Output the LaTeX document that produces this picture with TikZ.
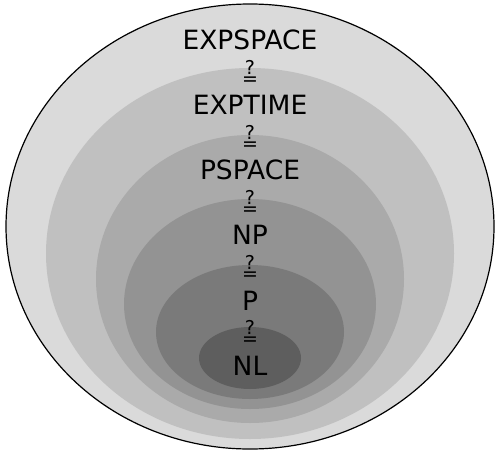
\documentclass[tikz,border=0pt]{standalone}
\usepackage{fontspec}
\setmainfont{DejaVu Sans}
\definecolor{expspacegray}{HTML}{DADADA}
\definecolor{exptimegray}{HTML}{C0C0C0}
\definecolor{pspacegray}{HTML}{AAAAAA}
\definecolor{npgray}{HTML}{939393}
\definecolor{pgray}{HTML}{7A7A7A}
\definecolor{nlgray}{HTML}{5E5E5E}
\tikzset{
  cls/.style={inner sep=0pt, font=\fontsize{26.5}{30}\selectfont},
  qeq/.style={inner sep=0pt, align=center, font=\fontsize{19}{11}\selectfont}
}

\begin{document}
\begin{tikzpicture}[x=1pt, y=-1pt, node distance=32.55pt]
	\useasboundingbox (0,0) rectangle (500,455);
	\filldraw[fill=expspacegray, draw=black, line width=1.2pt] (250,226.5) ellipse [x radius=244pt, y radius=222.5pt];
	\fill[exptimegray] (250,253.5) ellipse [x radius=204pt, y radius=185.5pt];
	\fill[pspacegray] (250,279) ellipse [x radius=154pt, y radius=144pt];
	\fill[npgray] (250,304) ellipse [x radius=126pt, y radius=105pt];
	\fill[pgray] (250,332) ellipse [x radius=94pt, y radius=67pt];
	\fill[nlgray] (250,358) ellipse [x radius=51pt, y radius=31pt];
	\node[cls] (EXPSPACE) at (250,40) {EXPSPACE};
	\node[qeq] (q1) [below of=EXPSPACE] {?\\=};
	\node[cls] (EXPTIME) [below of=q1] {EXPTIME};
	\node[qeq] (q2) [below of=EXPTIME] {?\\=};
	\node[cls] (PSPACE) [below of=q2] {PSPACE};
	\node[qeq] (q3) [below of=PSPACE] {?\\=};
	\node[cls] (NP) [below of=q3] {NP};
	\node[qeq] (q4) [below of=NP] {?\\=};
	\node[cls] (P) [below of=q4] {P};
	\node[qeq] (q5) [below of=P] {?\\=};
	\node[cls] (NL) [below of=q5] {NL};
\end{tikzpicture}
\end{document}
